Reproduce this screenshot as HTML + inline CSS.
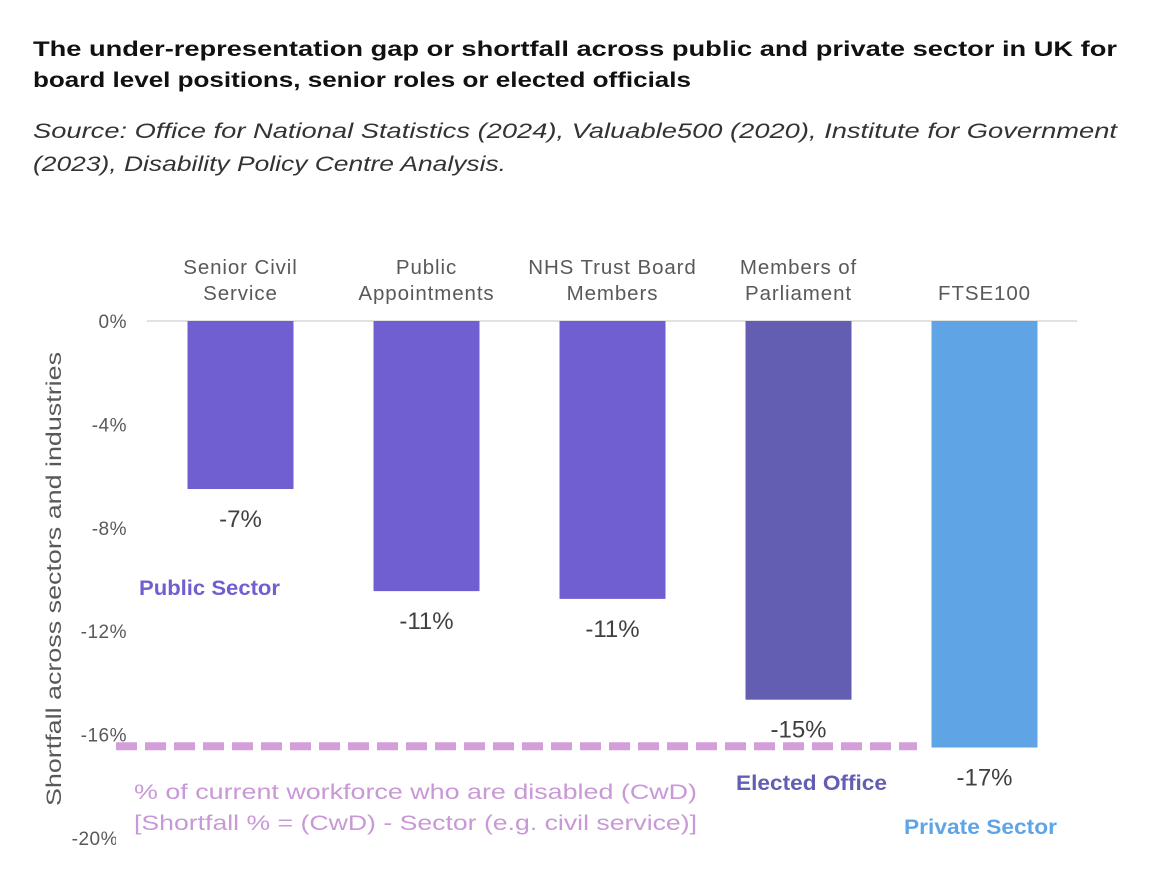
<!DOCTYPE html>
<html><head><meta charset="utf-8"><style>
body{margin:0;background:#fff;width:1154px;height:873px;overflow:hidden;font-family:"Liberation Sans",sans-serif}
svg{position:absolute;left:0;top:0}
</style></head><body>
<svg id="c" width="1154" height="873">
<g font-weight="bold" font-size="21" fill="#111">
<text x="33" y="56" textLength="1084" lengthAdjust="spacingAndGlyphs">The under-representation gap or shortfall across public and private sector in UK for</text>
<text x="33" y="87" textLength="658" lengthAdjust="spacingAndGlyphs">board level positions, senior roles or elected officials</text>
</g>
<g font-style="italic" font-size="21.5" fill="#333">
<text x="33" y="138" textLength="1084" lengthAdjust="spacingAndGlyphs">Source: Office for National Statistics (2024), Valuable500 (2020), Institute for Government</text>
<text x="33" y="171" textLength="473" lengthAdjust="spacingAndGlyphs">(2023), Disability Policy Centre Analysis.</text>
</g>
</svg>
<script>
const categories=[["Senior Civil","Service"],["Public","Appointments"],["NHS Trust Board","Members"],["Members of","Parliament"],["FTSE100"]];
const values=[-6.5,-10.45,-10.75,-14.65,-16.5];
const valueLabels=["-7%","-11%","-11%","-15%","-17%"];
const colors=["#6f5fd1","#6f5fd1","#6f5fd1","#645eb3","#5fa5e5"];
const ticks=[0,-4,-8,-12,-16,-20];
const cwd=-16.45;
const NS="http://www.w3.org/2000/svg";
const svg=document.getElementById('c');
const y=v=>321-v*25.85;
const xc=i=>240.5+i*186;
function mk(tag,a,txt){const e=document.createElementNS(NS,tag);for(const k in a)e.setAttribute(k,a[k]);if(txt!=null)e.textContent=txt;svg.appendChild(e);return e;}
const g=mk('line',{x1:147,x2:1077,y1:y(0),y2:y(0),stroke:'#d9d9d9','stroke-width':1.5});


ticks.forEach(t=>{const e=mk('text',{x:t===-20?118:127,y:y(t)+7,'text-anchor':'end','font-size':19,'letter-spacing':0.5,fill:'#595959'},t+'%');

});
const cover=mk('rect',{x:116,y:y(-20)-20,width:20,height:30,fill:'#fff'});


const yt=mk('text',{transform:'translate(61,579) rotate(-90)','text-anchor':'middle','font-size':21,fill:'#595959',textLength:454,lengthAdjust:'spacingAndGlyphs'},'Shortfall across sectors and industries');


values.forEach((v,i)=>{
const r=mk('rect',{x:xc(i)-53,y:y(0),width:106,height:y(v)-y(0),fill:colors[i]});


const l=mk('text',{x:xc(i),y:y(v)+38,'text-anchor':'middle','font-size':24,fill:'#404040'},valueLabels[i]);


const lines=categories[i];
lines.forEach((s,j)=>{const c=mk('text',{x:xc(i),y:(lines.length===2?274:300)+j*26,'text-anchor':'middle','font-size':20.5,'letter-spacing':0.9,fill:'#595959'},s);

});
});
const d=mk('line',{x1:116,x2:917,y1:y(cwd),y2:y(cwd),stroke:'#d49ed9','stroke-width':8,'stroke-dasharray':'21 8'});


[["% of current workforce who are disabled (CwD)",799],["[Shortfall % = (CwD) - Sector (e.g. civil service)]",830]].forEach(([s,yy])=>{const e=mk('text',{x:134,y:yy,'font-size':21,fill:'#c998d6',textLength:563,lengthAdjust:'spacingAndGlyphs'},s);

});
[["Public Sector",139,595,'#6f5fd1',141],["Elected Office",736,790,'#645eb3',151],["Private Sector",904,834,'#5fa5e5',153]].forEach(([s,x,yy,c,w])=>{const e=mk('text',{x:x,y:yy,'font-size':21,'font-weight':'bold',fill:c,textLength:w,lengthAdjust:'spacingAndGlyphs'},s);

});
</script>
</body></html>
